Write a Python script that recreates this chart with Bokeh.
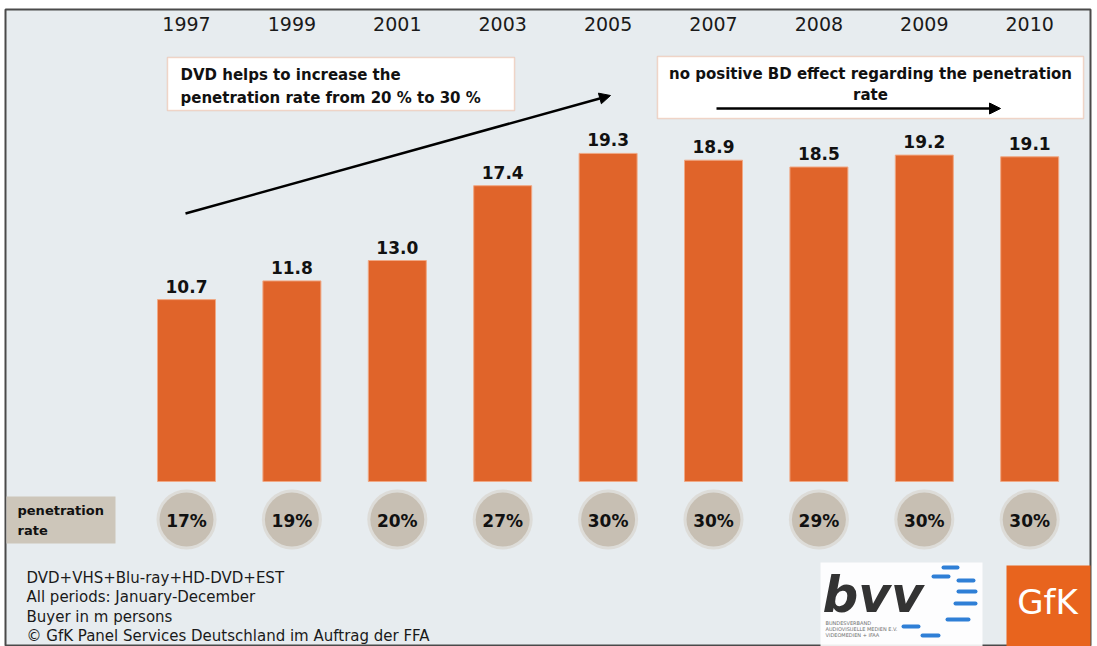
from bokeh.plotting import figure
from bokeh.models import ColumnDataSource, Range1d, BoxAnnotation, Arrow, NormalHead, Label
from bokeh.core.properties import value
from bokeh.embed import file_html
from bokeh.resources import INLINE

# ---------------- data ----------------
years = ["1997", "1999", "2001", "2003", "2005", "2007", "2008", "2009", "2010"]
buyers = [10.7, 11.8, 13.0, 17.4, 19.3, 18.9, 18.5, 19.2, 19.1]
penetration = ["17%", "19%", "20%", "27%", "30%", "30%", "29%", "30%", "30%"]
footnotes = [
    "DVD+VHS+Blu-ray+HD-DVD+EST",
    "All periods: January-December",
    "Buyer in m persons",
    "\u00a9 GfK Panel Services Deutschland im Auftrag der FFA",
]
note_left = "DVD helps to increase the\npenetration rate from 20 % to 30 %"
note_right = "no positive BD effect regarding the penetration\nrate"

# ---------------- layout helpers (page pixels -> data) ----------------
W, H = 1092, 646
FL, FT, FR, FB = 5, 9, 1090, 646   # frame edges in page pixels
XSTEP = 105.4   # px per category
XC0 = 186       # page x of first bar centre
YBASE = 481     # page y of value 0
YSCALE = 17.0   # px per unit


def dx(px):
    return (px - XC0) / XSTEP


def dy(py):
    return (YBASE - py) / YSCALE


FONT = "DejaVu Sans"
ORANGE = "#e0642a"

xs = list(range(len(years)))
src = ColumnDataSource(dict(
    x=xs, year=years, buyers=buyers,
    label=[f"{v:.1f}" for v in buyers], pen=penetration,
))

p = figure(width=W, height=H, output_backend="svg", toolbar_location=None,
           x_range=Range1d(dx(FL), dx(FR)), y_range=Range1d(dy(FB), dy(FT)),
           min_border_left=FL, min_border_top=FT, min_border_right=W - FR,
           min_border_bottom=H - FB,
           background_fill_color="#e7ecef", border_fill_color="white")
p.axis.visible = False
p.grid.visible = False
p.outline_line_color = "#4a4a4a"
p.outline_line_width = 2

# bars
p.vbar(x="x", top="buyers", bottom=0, width=58 / XSTEP, source=src,
       fill_color=ORANGE, line_color="#f0a884", line_width=1)

# value labels
p.text(x="x", y="buyers", text="label", source=src, y_offset=-7,
       text_align="center", text_baseline="bottom", text_font=value(FONT),
       text_font_style="bold", text_font_size="17px", text_color="#111111")

# year labels on top
p.text(x="x", y=dy(23), text="year", source=src, text_align="center",
       text_baseline="middle", text_font=value(FONT), text_font_size="19px",
       text_color="#1a1a1a")

# penetration circles
p.scatter(x="x", y=dy(519), source=src, size=60, fill_color="#d3ccc2",
          fill_alpha=0.5, line_color=None)
p.scatter(x="x", y=dy(519), source=src, size=54, fill_color="#c7bfb3",
          line_color=None)
p.text(x="x", y=dy(520), text="pen", source=src, text_align="center",
       text_baseline="middle", text_font=value(FONT), text_font_style="bold",
       text_font_size="17px", text_color="#111111")

# penetration rate box
p.add_layout(BoxAnnotation(left=dx(6), right=dx(115), top=dy(496), bottom=dy(543),
                           fill_color="#cdc6ba", fill_alpha=1, line_color=None,
                           level="underlay"))
for t, yy in (("penetration", 510), ("rate", 530)):
    p.add_layout(Label(x=dx(17), y=dy(yy), text=t, text_font=FONT,
                       text_font_style="bold", text_font_size="13px",
                       text_baseline="middle", text_color="#111111"))

# annotation boxes
p.add_layout(BoxAnnotation(left=dx(167), right=dx(514), top=dy(57), bottom=dy(110),
                           fill_color="white", fill_alpha=1,
                           line_color="#e8845a", line_width=1.5))
p.add_layout(Label(x=dx(180), y=dy(86), text=note_left, text_font=FONT,
                   text_font_style="bold", text_font_size="15px",
                   text_baseline="middle", text_color="#111111", text_line_height=1.25))
p.add_layout(BoxAnnotation(left=dx(657), right=dx(1083), top=dy(56), bottom=dy(118),
                           fill_color="white", fill_alpha=1,
                           line_color="#e8845a", line_width=1.5))
p.add_layout(Label(x=dx(870), y=dy(84), text=note_right, text_font=FONT,
                   text_font_style="bold", text_font_size="15px", text_align="center",
                   text_baseline="middle", text_color="#111111", text_line_height=1.2))

# arrows
p.add_layout(Arrow(end=NormalHead(size=11, fill_color="black", line_color="black"),
                   x_start=dx(185), y_start=dy(213), x_end=dx(610), y_end=dy(95),
                   line_width=2.5, line_color="black"))
p.add_layout(Arrow(end=NormalHead(size=11, fill_color="black", line_color="black"),
                   x_start=dx(716), y_start=dy(108), x_end=dx(1000), y_end=dy(108),
                   line_width=2.5, line_color="black"))

# footnotes
for i, t in enumerate(footnotes):
    p.add_layout(Label(x=dx(26), y=dy(577 + i * 19.5), text=t, text_font=FONT,
                       text_font_size="15px", text_baseline="middle",
                       text_color="#1a1a1a"))

# bvv logo
p.add_layout(BoxAnnotation(left=dx(820), right=dx(982), top=dy(562), bottom=dy(660),
                           fill_color="white", fill_alpha=0.9, line_color=None,
                           level="underlay"))
dash_x0 = [943, 933, 958, 958, 955, 947, 903, 922]
dash_x1 = [957, 948, 973, 975, 975, 968, 918, 938]
dash_y = [567, 576, 580, 591, 603, 619, 626, 635]
p.segment(x0=[dx(v) for v in dash_x0], x1=[dx(v) for v in dash_x1],
          y0=[dy(v) for v in dash_y], y1=[dy(v) for v in dash_y],
          line_color="#2f7fd6", line_width=4, line_cap="round")
p.add_layout(Label(x=dx(822), y=dy(594), text="bvv", text_font=FONT,
                   text_font_style="bold italic", text_font_size="50px",
                   text_baseline="middle", text_color="#333333"))
for i, t in enumerate(["BUNDESVERBAND", "AUDIOVISUELLE MEDIEN E.V.", "VIDEOMEDIEN + IFAA"]):
    p.add_layout(Label(x=dx(825), y=dy(622 + i * 6), text=t, text_font=FONT,
                       text_font_size="5px", text_baseline="middle",
                       text_color="#707070"))

# GfK logo
p.add_layout(BoxAnnotation(left=dx(1006), right=dx(1095), top=dy(565), bottom=dy(660),
                           fill_color="#e8641e", fill_alpha=1, line_color=None))
p.add_layout(Label(x=dx(1047), y=dy(601), text="GfK", text_font=FONT,
                   text_font_size="34px", text_align="center", text_baseline="middle",
                   text_color="white"))

open("out.html", "w").write(file_html(p, INLINE))
